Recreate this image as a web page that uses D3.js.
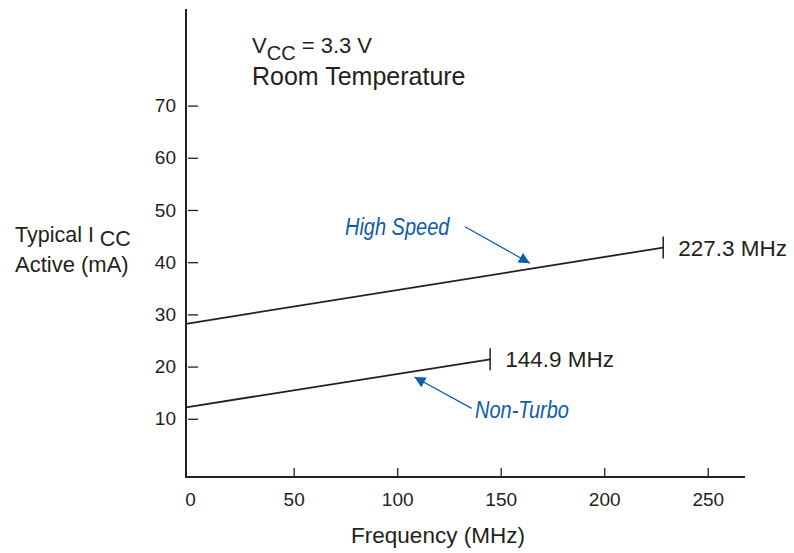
<!DOCTYPE html>
<html>
<head>
<meta charset="utf-8">
<script src="https://cdn.jsdelivr.net/npm/d3@7"></script>
<style>
  body { margin: 0; background: #fff; }
  text { font-family: "Liberation Sans", Arial, Helvetica, sans-serif; fill: #231f20; }
  .note { font-style: italic; fill: #0b5cad; }
</style>
</head>
<body>
<div id="chart"></div>
<script>
// axis extents (MHz / mA) and ticks
const freqExtent = [-2, 268];
const iccExtent = [-1.15, 88.5];
const freqTicks = [0, 50, 100, 150, 200, 250];
const iccTicks = [10, 20, 30, 40, 50, 60, 70];

// the two modes: [frequency, typical Icc]
const highSpeed = [[-2, 28.2], [228.5, 42.8]];
const nonTurbo = [[-2, 12.2], [144.9, 21.4]];
const maxLabels = ["227.3 MHz", "144.9 MHz"];

// annotation arrows: label anchor, arrow tail, arrow tip (data coords)
const notes = [
  { text: "High Speed", at: [74.8, 45.3], from: [132.8, 46.8], to: [164.1, 39.8] },
  { text: "Non-Turbo", at: [137.6, 10.15], from: [136, 12.0], to: [108.3, 18.0] }
];

const width = 794, height = 553;

const x = d3.scaleLinear().domain(freqExtent).range([186, 745]);
const y = d3.scaleLinear().domain(iccExtent).range([477, 9]);

const svg = d3.select("#chart").append("svg")
  .attr("width", width)
  .attr("height", height);

svg.append("defs").append("marker")
  .attr("id", "head")
  .attr("viewBox", "0 0 10 10")
  .attr("refX", 10).attr("refY", 5)
  .attr("markerWidth", 14).attr("markerHeight", 11)
  .attr("markerUnits", "userSpaceOnUse")
  .attr("orient", "auto")
  .append("path")
  .attr("d", "M0,0 L10,5 L0,10 z")
  .attr("fill", "#0b5cad");

// axis lines
svg.append("line")
  .attr("x1", x(freqExtent[0])).attr("x2", x(freqExtent[0]))
  .attr("y1", y(iccExtent[0])).attr("y2", y(iccExtent[1]))
  .attr("stroke", "#231f20").attr("stroke-width", 2);
svg.append("line")
  .attr("x1", x(freqExtent[0]) - 1).attr("x2", x(freqExtent[1]))
  .attr("y1", y(iccExtent[0])).attr("y2", y(iccExtent[0]))
  .attr("stroke", "#231f20").attr("stroke-width", 2);

// y ticks (inside, short)
const yAxis = svg.append("g")
  .attr("transform", "translate(" + (x(freqExtent[0]) + 2) + ",0)")
  .call(d3.axisLeft(y).tickValues(iccTicks).tickSizeInner(-10).tickSizeOuter(0).tickPadding(12));
yAxis.select(".domain").remove();
yAxis.selectAll(".tick line").attr("stroke", "#231f20").attr("stroke-width", 1.3);
yAxis.selectAll(".tick text").attr("font-size", 19).attr("font-family", null).attr("fill", "#231f20");

// x ticks (inside, upward)
const xAxis = svg.append("g")
  .attr("transform", "translate(0," + y(iccExtent[0]) + ")")
  .call(d3.axisBottom(x).tickValues(freqTicks).tickSizeInner(-9).tickSizeOuter(0).tickPadding(16));
xAxis.select(".domain").remove();
xAxis.selectAll(".tick line").attr("stroke", "#231f20").attr("stroke-width", 1.3)
  .filter(d => d === 0).remove();
xAxis.selectAll(".tick text").attr("font-size", 19).attr("font-family", null).attr("fill", "#231f20");

// series lines with end tick and max frequency label
const line = d3.line().x(d => x(d[0])).y(d => y(d[1]));
[highSpeed, nonTurbo].forEach((s, i) => {
  svg.append("path")
    .attr("d", line(s))
    .attr("fill", "none")
    .attr("stroke", "#231f20")
    .attr("stroke-width", 1.8);
  const end = s[s.length - 1];
  svg.append("line")
    .attr("x1", x(end[0])).attr("x2", x(end[0]))
    .attr("y1", y(end[1]) - 11).attr("y2", y(end[1]) + 11)
    .attr("stroke", "#231f20").attr("stroke-width", 1.5);
  svg.append("text")
    .attr("x", x(end[0]) + 15)
    .attr("y", y(end[1]) + 8)
    .attr("font-size", 22.5)
    .text(maxLabels[i]);
});

// blue annotations (narrowed italic)
notes.forEach(n => {
  svg.append("line")
    .attr("x1", x(n.from[0])).attr("y1", y(n.from[1]))
    .attr("x2", x(n.to[0])).attr("y2", y(n.to[1]))
    .attr("stroke", "#0b5cad").attr("stroke-width", 1.2)
    .attr("marker-end", "url(#head)");
  svg.append("text")
    .attr("class", "note")
    .attr("transform", "translate(" + x(n.at[0]) + "," + y(n.at[1]) + ") scale(0.85,1)")
    .attr("font-size", 23.5)
    .text(n.text);
});

// header text
const head = svg.append("text").attr("x", 252).attr("y", 53).attr("font-size", 22);
head.append("tspan").text("V");
head.append("tspan").attr("dy", 7).attr("font-size", 20).text("CC");
head.append("tspan").attr("dy", -7).text(" = 3.3 V");
svg.append("text").attr("x", 252).attr("y", 85).attr("font-size", 25).text("Room Temperature");

// y axis title
const yt = svg.append("text").attr("x", 15).attr("y", 242).attr("font-size", 21.5);
yt.append("tspan").text("Typical I ");
yt.append("tspan").attr("dy", 4).text("CC");
svg.append("text").attr("x", 15).attr("y", 272).attr("font-size", 22).text("Active (mA)");

// x axis title
svg.append("text")
  .attr("x", 438).attr("y", 543)
  .attr("text-anchor", "middle")
  .attr("font-size", 22.5)
  .text("Frequency (MHz)");
</script>
</body>
</html>
